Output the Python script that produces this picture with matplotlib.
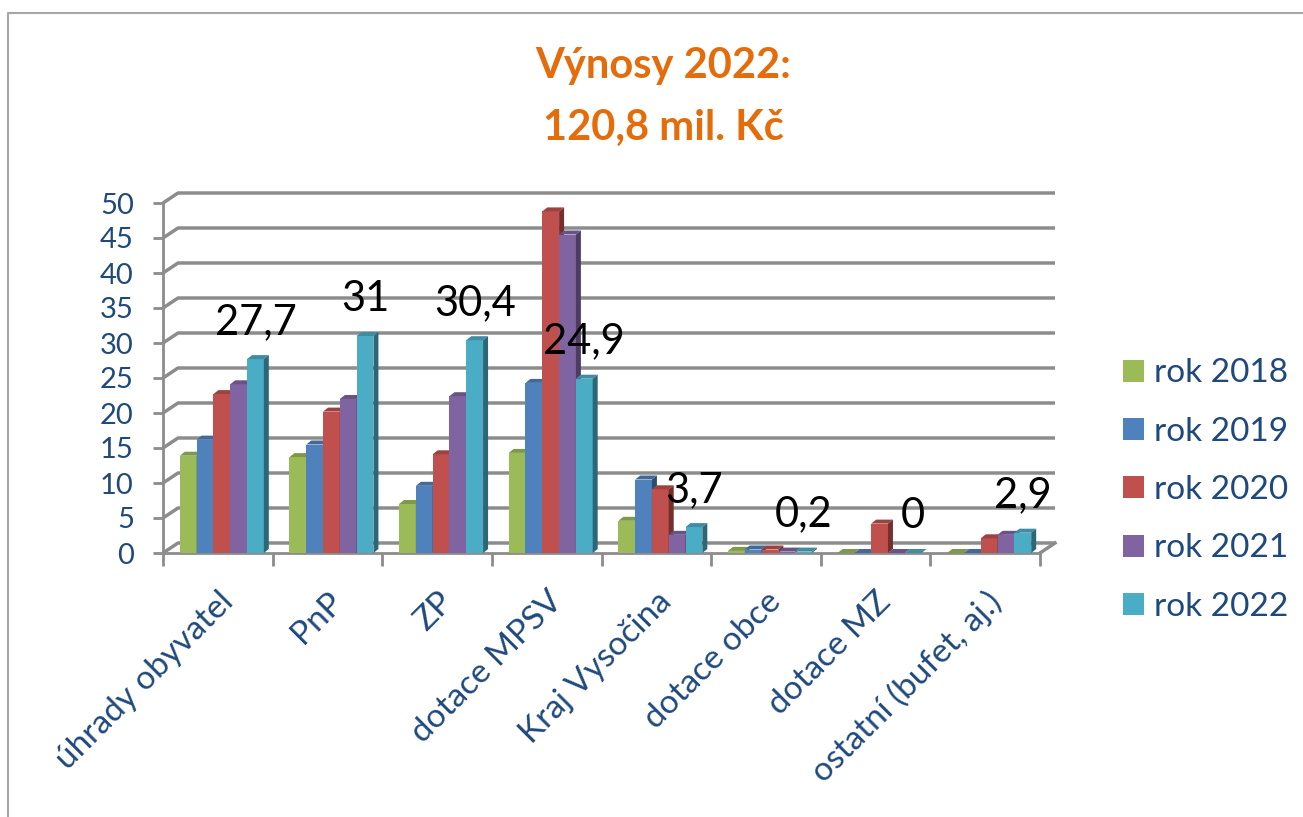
import matplotlib
matplotlib.use("Agg")
import matplotlib.pyplot as plt
import numpy as np
from matplotlib.colors import to_rgb
from matplotlib.lines import Line2D
from matplotlib.patches import Patch, Polygon

plt.rcParams["font.family"] = ["Lato", "DejaVu Sans"]

# data (mil. Kč)
categories = ["úhrady obyvatel", "PnP", "ZP", "dotace MPSV", "Kraj Vysočina",
              "dotace obce", "dotace MZ", "ostatní (bufet, aj.)"]
series_names = ["rok 2018", "rok 2019", "rok 2020", "rok 2021", "rok 2022"]
rok_2018 = [13.9, 13.7, 7.0, 14.3, 4.6, 0.3, 0.0, 0.0]
rok_2019 = [16.2, 15.5, 9.6, 24.3, 10.5, 0.5, 0.0, 0.0]
rok_2020 = [22.7, 20.2, 14.1, 48.8, 9.1, 0.5, 4.2, 2.1]
rok_2021 = [24.1, 22.0, 22.4, 45.5, 2.6, 0.2, 0.0, 2.6]
rok_2022 = [27.7, 31.0, 30.4, 24.9, 3.7, 0.2, 0.0, 2.9]
y_ticks = list(range(0, 51, 5))

series = [rok_2018, rok_2019, rok_2020, rok_2021, rok_2022]
colors = ["#9bbb59", "#4f81bd", "#c0504d", "#8064a2", "#4bacc6"]
text_blue = "#1f497d"
grid_c = "#8c8c8c"


def shade(c, f):
    return tuple(np.array(to_rgb(c)) * f)


W, H = 1303, 817
fig = plt.figure(figsize=(W / 100, H / 100), dpi=100)
ax = fig.add_axes([163 / W, 1 - 553 / H, 877 / W, 350 / H])
ax.set_xlim(-0.5, len(categories) - 0.5)
ax.set_ylim(0, 50)

# pixel -> data scale
px_x = len(categories) / 877
px_y = 50 / 350
wall_dx, wall_dy = 15 * px_x, 10 * px_y
bar_dx, bar_dy = 5 * px_x, 4 * px_y
bar_w = 16.8 * px_x
shift = 4 * px_x

# back wall grid + floor
x_lo, x_hi = ax.get_xlim()
for v in y_ticks:
    ax.plot([x_lo, x_lo + wall_dx, x_hi + wall_dx], [v, v + wall_dy, v + wall_dy],
            color=grid_c, lw=2.5, clip_on=False, zorder=1, solid_capstyle="butt")
ax.plot([x_hi, x_hi + wall_dx], [0, wall_dy], color=grid_c, lw=2.5,
        clip_on=False, zorder=1)

# pseudo-3D bars
x = np.arange(len(categories))
for i, (vals, c) in enumerate(zip(series, colors)):
    xs = x + (i - 2) * bar_w + shift
    z = 3 + 2 * i
    ax.bar(xs, vals, width=bar_w, color=c, linewidth=0, zorder=z)
    for xc, h in zip(xs, vals):
        x0, x1 = xc - bar_w / 2, xc + bar_w / 2
        ax.add_patch(Polygon([(x0, h), (x1, h), (x1 + bar_dx, h + bar_dy),
                              (x0 + bar_dx, h + bar_dy)],
                             fc=shade(c, 0.82), lw=0, zorder=z + 1))
        ax.add_patch(Polygon([(x1, 0), (x1 + bar_dx, bar_dy),
                              (x1 + bar_dx, h + bar_dy), (x1, h)],
                             fc=shade(c, 0.6), lw=0, zorder=z + 1))
    if i == len(series) - 1:
        for xc, h in zip(xs, vals):
            ax.annotate(f"{h:g}".replace(".", ","), (xc, h), xytext=(0, 18),
                        textcoords="offset points", ha="center", va="baseline",
                        fontsize=30, color="black", zorder=30)

# axes styling
for s in ["top", "right"]:
    ax.spines[s].set_visible(False)
for s in ["left", "bottom"]:
    ax.spines[s].set_color(grid_c)
    ax.spines[s].set_linewidth(2)

ax.set_yticks(y_ticks)
ax.tick_params(axis="y", length=7, width=2, color=grid_c, pad=14,
               labelsize=21, labelcolor=text_blue)
ax.set_xticks(x)
ax.set_xticklabels(categories, rotation=45, ha="right", va="top",
                   rotation_mode="anchor")
ax.tick_params(axis="x", which="major", length=0, pad=24, labelsize=24,
               labelcolor=text_blue)
ax.set_xticks(np.arange(-0.5, len(categories), 1), minor=True)
ax.tick_params(axis="x", which="minor", length=9, width=2, color=grid_c)

# legend
handles = [Patch(fc=c, lw=0) for c in colors]
leg = fig.legend(handles, series_names, loc="center left",
                 bbox_to_anchor=(1123 / W, 1 - 490 / H), frameon=False,
                 fontsize=24, handlelength=0.64, handleheight=0.64,
                 handletextpad=0.3, labelspacing=0.85, borderpad=0,
                 borderaxespad=0)
for t in leg.get_texts():
    t.set_color(text_blue)

# title
fig.text(663 / W, 1 - 78 / H, "Výnosy 2022:", ha="center", va="baseline",
         fontsize=30, fontweight="bold", color="#e46c0a")
fig.text(663 / W, 1 - 140 / H, "120,8 mil. Kč", ha="center", va="baseline",
         fontsize=30, fontweight="bold", color="#e46c0a")

# chart frame
fig.add_artist(Line2D([8 / W, 8 / W, 1], [0, 1 - 13 / H, 1 - 13 / H],
                      transform=fig.transFigure, color="#a6a6a6", lw=1.5))

fig.savefig("out.png", dpi=100)
